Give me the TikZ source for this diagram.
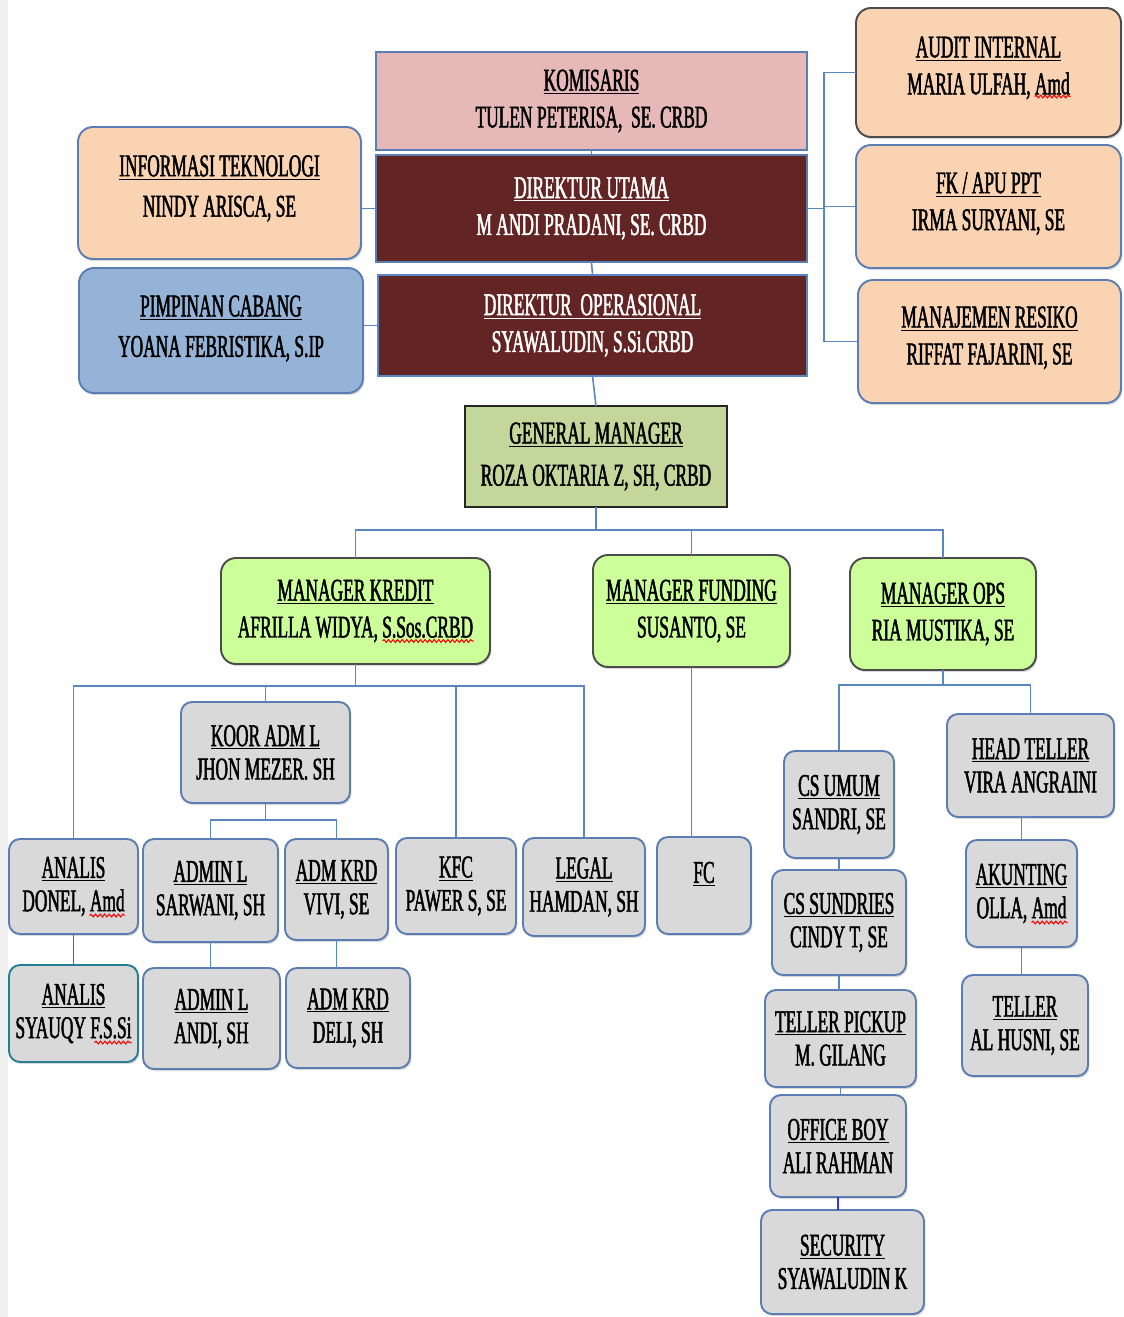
\documentclass[tikz,border=0pt]{standalone}
\usepackage{fontspec}
\setmainfont{Liberation Serif}[FakeStretch=0.55,UprightFeatures={FakeBold=1.5}]
\usetikzlibrary{positioning}
\usetikzlibrary{calc}
\usetikzlibrary{shadows}
\usetikzlibrary{decorations.pathmorphing}

\definecolor{bline}{HTML}{5B7DB1}
\definecolor{wire}{HTML}{5A86C2}
\definecolor{pinkfill}{HTML}{E6B8B7}
\definecolor{maroon}{HTML}{632523}
\definecolor{peachfill}{HTML}{FAD4B2}
\definecolor{bluefill}{HTML}{95B3D7}
\definecolor{olivefill}{HTML}{C4D79B}
\definecolor{limefill}{HTML}{CCFF99}
\definecolor{grayfill}{HTML}{D9D9D9}

\begin{document}
\begin{tikzpicture}[x=0.02cm,y=-0.02cm,
    sz/.style 2 args={minimum width=#1*0.02cm,minimum height=#2*0.02cm},
    box/.style={draw=bline,line width=1.1pt,align=center,inner sep=0pt,outer sep=0pt,
        font=\fontsize{18}{21}\selectfont},
    sq/.style={box},
    rnd/.style={box,rounded corners=0.3cm,
        drop shadow={opacity=0.3,shadow xshift=0.8pt,shadow yshift=-1.2pt}},
    grey/.style={box,fill=grayfill,rounded corners=0.22cm,font=\fontsize{18}{19}\selectfont,
        drop shadow={opacity=0.3,shadow xshift=0.8pt,shadow yshift=-1.2pt}},
    link/.style={draw=wire,line width=0.9pt},
    typo/.style={draw=red,line width=0.6pt,decorate,decoration={snake,amplitude=0.8pt,segment length=2.6pt}}]

\useasboundingbox (0,0) rectangle (1123,1317);
\fill[gray!12] (0,0) rectangle (8,1317);

% direksi
\node[sq,fill=pinkfill,sz={431}{98}] (kom) at (591.5,101) {\underline{KOMISARIS}\\TULEN PETERISA,\ \ SE. CRBD};
\node[sq,fill=maroon,text=white,sz={431}{107}] (du) at (591.5,208.5) {\underline{DIREKTUR UTAMA}\\M ANDI PRADANI, SE. CRBD};
\node[sq,fill=maroon,text=white,draw=wire,sz={429}{101}] (dop) at (592.5,325.5) {\underline{DIREKTUR\ \ OPERASIONAL}\\SYAWALUDIN, S.Si.CRBD};
\node[rnd,fill=peachfill,font=\fontsize{18}{23}\selectfont,sz={283}{132}] (it) at (219.5,193) {\underline{INFORMASI TEKNOLOGI}\\NINDY ARISCA, SE\\[-15pt]};
\node[rnd,fill=bluefill,font=\fontsize{18}{23}\selectfont,sz={284}{125}] (pc) at (221,330.5) {\underline{PIMPINAN CABANG}\\YOANA FEBRISTIKA, S.IP\\[-18pt]};
\node[rnd,fill=peachfill,draw=black!70,sz={265}{129}] (ai) at (988.5,72.5) {\underline{AUDIT INTERNAL}\\MARIA ULFAH, Amd\\[-13pt]};
\node[rnd,fill=peachfill,sz={265}{123}] (fk) at (988.5,206.5) {\underline{FK / APU PPT}\\IRMA SURYANI, SE\\[-15pt]};
\node[rnd,fill=peachfill,sz={263}{123}] (mr) at (989.5,341.5) {\underline{MANAJEMEN RESIKO}\\RIFFAT FAJARINI, SE\\[-14pt]};
\node[sq,fill=olivefill,draw=black!85,line width=1.5pt,font=\fontsize{18}{24}\selectfont,sz={262}{101}] (gm) at (596,456.5) {\underline{GENERAL MANAGER}\\ROZA OKTARIA Z, SH, CRBD};

% manajer
\node[rnd,fill=limefill,draw=black!70,sz={269}{106}] (mk) at (355.5,611) {\underline{MANAGER KREDIT}\\AFRILLA WIDYA, S.Sos.CRBD};
\node[rnd,fill=limefill,draw=black!70,sz={197}{112}] (mf) at (691.5,611) {\underline{MANAGER FUNDING}\\SUSANTO, SE};
\node[rnd,fill=limefill,draw=black!70,sz={186}{112}] (mo) at (943,614) {\underline{MANAGER OPS}\\RIA MUSTIKA, SE};

% kredit
\node[grey,sz={169}{101}] (koor) at (265.5,752.5) {\underline{KOOR ADM L}\\JHON MEZER. SH};
\node[grey,sz={129}{95}] (an_1) at (73.5,886.5) {\underline{ANALIS}\\DONEL,\ Amd};
\node[grey,sz={135}{103}] (adm_1) at (210.5,890.5) {\underline{ADMIN L}\\SARWANI, SH};
\node[grey,sz={103}{101}] (akr_1) at (336.5,889.5) {\underline{ADM KRD}\\VIVI, SE};
\node[grey,sz={120}{96}] (kfc) at (456,886) {\underline{KFC}\\PAWER S, SE};
\node[grey,sz={122}{98}] (lg) at (584,887) {\underline{LEGAL}\\HAMDAN, SH};
\node[grey,draw=teal!60!bline,sz={129}{97}] (an_2) at (73.5,1013.5) {\underline{ANALIS}\\SYAUQY F.S.Si};
\node[grey,sz={137}{101}] (adm_2) at (211.5,1018.5) {\underline{ADMIN L}\\ANDI, SH};
\node[grey,sz={124}{100}] (akr_2) at (348,1018) {\underline{ADM KRD}\\DELI, SH};

% funding
\node[grey,sz={94}{97}] (fc) at (704,885.5) {\underline{FC}\\[-4pt]};

% ops
\node[grey,sz={110}{107}] (cs_1) at (839,804.5) {\underline{CS UMUM}\\SANDRI, SE};
\node[grey,sz={134}{105}] (cs_2) at (839,922.5) {\underline{CS SUNDRIES}\\CINDY T, SE};
\node[grey,sz={151}{97}] (tp) at (840.5,1038.5) {\underline{TELLER PICKUP}\\M. GILANG};
\node[grey,sz={136}{102}] (ob) at (838,1146) {\underline{OFFICE BOY}\\ALI RAHMAN};
\node[grey,sz={163}{104}] (sec) at (842.5,1262) {\underline{SECURITY}\\SYAWALUDIN K};
\node[grey,sz={167}{103}] (ht) at (1030.5,765.5) {\underline{HEAD TELLER}\\VIRA ANGRAINI};
\node[grey,sz={111}{107}] (ak) at (1021.5,893.5) {\underline{AKUNTING}\\OLLA,\ Amd};
\node[grey,sz={126}{101}] (tl) at (1025,1025.5) {\underline{TELLER}\\AL HUSNI, SE};

% garis
\draw[link] (kom.south) -- (du.north);
\draw[link] (du.south) -- (dop.north);
\draw[link] (du.west) -- (du.west -| it.east);
\draw[link] (dop.west) -- (dop.west -| pc.east);
\draw[link] (du.east) -- ++(17,0) coordinate (rb);
\draw[link] (ai.west) -| (rb |- mr.west) -- (mr.west);
\draw[link] (fk.west) -- (fk.west -| rb);
\draw[link] (dop.south) -- (gm.north);

\draw[link] (gm.south) -- ++(0,23) coordinate (b_1);
\draw[link] (mk.north) |- (b_1) -| (mo.north);
\draw[link] (mf.north) -- (mf.north |- b_1);

\draw[link] (mk.south) -- ++(0,22) coordinate (b_2);
\draw[link] (an_1.north) |- (b_2) -| (lg.north);
\draw[link] (koor.north) -- (koor.north |- b_2);
\draw[link] (kfc.north) -- (kfc.north |- b_2);
\draw[link] (koor.south) -- ++(0,17) coordinate (b_3);
\draw[link] (adm_1.north) |- (b_3) -| (akr_1.north);
\draw[link,draw=teal!70!bline] (an_1.south) -- (an_2.north);
\draw[link] (adm_1.south) -- (adm_1.south |- adm_2.north);
\draw[link] (akr_1.south) -- (akr_1.south |- akr_2.north);

\draw[link] (mf.south) -- (mf.south |- fc.north);

\draw[link] (mo.south) -- ++(0,15) coordinate (b_4);
\draw[link] (cs_1.north) |- (b_4) -| (ht.north);
\draw[link] (cs_1.south) -- (cs_1.south |- cs_2.north);
\draw[link] (cs_2.south) -- (cs_2.south |- tp.north);
\draw[link] (tp.south) -- (tp.south |- ob.north);
\draw[link,draw=blue!80] (ob.south) -- (ob.south |- sec.north);
\draw[link] (ht.south) -- (ht.south -| ak.north) -- (ak.north);
\draw[link] (ak.south) -- (ak.south |- tl.north);

% salah eja
\draw[typo] ($(ai.center)+(46,24)$) -- ++(36,0);
\draw[typo] ($(mk.center)+(27,30)$) -- ++(91,0);
\draw[typo] ($(an_1.center)+(16,29)$) -- ++(35,0);
\draw[typo] ($(an_2.center)+(21,29)$) -- ++(37,0);
\draw[typo] ($(ak.center)+(10,29)$) -- ++(36,0);
\end{tikzpicture}
\end{document}
